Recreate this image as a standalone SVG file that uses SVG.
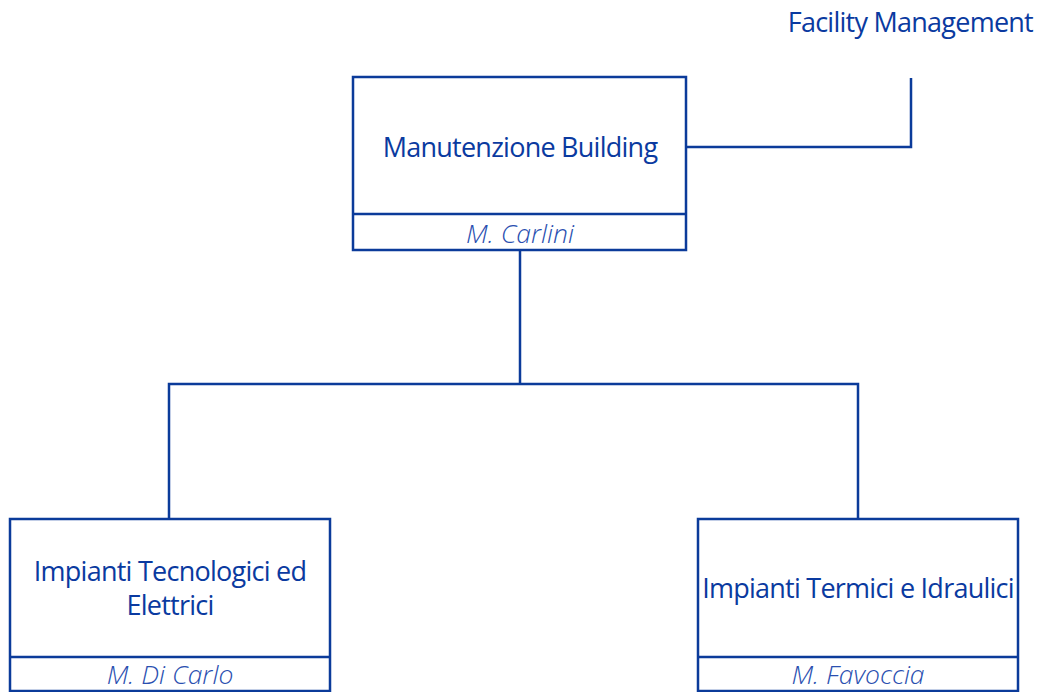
<svg xmlns="http://www.w3.org/2000/svg" width="1037" height="692" viewBox="0 0 1037 692">
<style>
.box{fill:#fff;stroke:#0b3b9a;stroke-width:2.5}
.ln{fill:none;stroke:#0b3b9a;stroke-width:2.5}
.t{font-family:"Open Sans","Noto Sans",sans-serif;font-size:27px;fill:#0a3aa0;text-anchor:middle;letter-spacing:-0.75px}
.n{font-family:"Open Sans","Noto Sans",sans-serif;font-size:26.5px;font-style:italic;font-weight:300;fill:#2a4fb0;text-anchor:middle;letter-spacing:0px}
</style>
<rect width="1037" height="692" fill="#fff"/>
<g id="connectors">
<polyline class="ln" points="686,147 911,147 911,78"/>
<polyline class="ln" points="520,250 520,384"/>
<polyline class="ln" points="169,519 169,384 858,384 858,519"/>
</g>
<g id="facility">
<text class="t" x="1033" y="32" style="text-anchor:end">Facility Management</text>
</g>
<g id="manutenzione">
<rect class="box" x="353" y="77" width="333" height="173"/>
<line class="ln" x1="353" y1="214" x2="686" y2="214"/>
<text class="t" x="520" y="157">Manutenzione Building</text>
<text class="n" x="520" y="243">M. Carlini</text>
</g>
<g id="tecnologici">
<rect class="box" x="10" y="519" width="320" height="172"/>
<line class="ln" x1="10" y1="657" x2="330" y2="657"/>
<text class="t" x="170" y="581">Impianti Tecnologici ed</text>
<text class="t" x="170" y="615">Elettrici</text>
<text class="n" x="170" y="684">M. Di Carlo</text>
</g>
<g id="termici">
<rect class="box" x="698" y="519" width="320" height="172"/>
<line class="ln" x1="698" y1="657" x2="1018" y2="657"/>
<text class="t" x="858" y="598">Impianti Termici e Idraulici</text>
<text class="n" x="858" y="684">M. Favoccia</text>
</g>
</svg>
